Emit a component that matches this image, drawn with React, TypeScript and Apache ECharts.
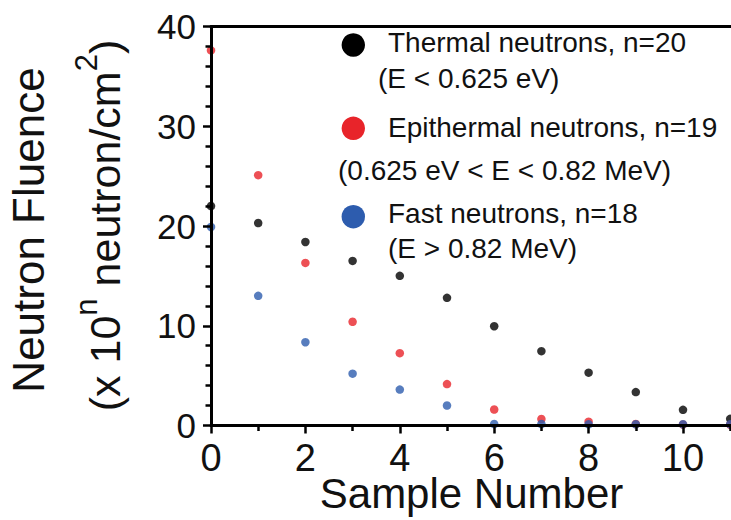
import React, { useEffect, useRef } from "react";
import * as echarts from "echarts";

const sampleNumbers = [0, 1, 2, 3, 4, 5, 6, 7, 8, 9, 10, 11];
const thermal = [22.0, 20.3, 18.4, 16.5, 15.0, 12.8, 9.95, 7.45, 5.3, 3.35, 1.57, 0.67];
const epithermal = [37.6, 25.1, 16.3, 10.4, 7.25, 4.15, 1.6, 0.65, 0.38, 0.15, 0.1, 0.08];
const fast = [19.9, 13.0, 8.35, 5.2, 3.6, 2.0, 0.15, 0.15, 0.12, 0.12, 0.12, 0.12];
const seriesNames = ["Thermal neutrons, n=20", "Epithermal neutrons, n=19", "Fast neutrons, n=18"];
const seriesRanges = ["(E < 0.625 eV)", "(0.625 eV < E < 0.82 MeV)", "(E > 0.82 MeV)"];
const colors = ["#000000", "#e8242a", "#2d5cae"];

const FONT = '"Liberation Sans", Arial, Helvetica, sans-serif';
const INK = "#111111";
const CHART_W = 800;

export default function App() {
  const ref = useRef<HTMLDivElement>(null);
  useEffect(() => {
    if (!ref.current) return;
    const chart = echarts.init(ref.current, undefined, { renderer: "svg" });
    const toPairs = (vals: number[]) => vals.map((v, i) => [sampleNumbers[i], v]);
    const legendY = [[45, 42, 78.6], [128.3, 127, 170.3], [216.7, 213.6, 248.6]];
    const legendX2 = [378, 338, 388];
    const graphics: any[] = [];
    seriesNames.forEach((name, i) => {
      graphics.push({
        type: "circle",
        shape: { cx: 353.3, cy: legendY[i][0], r: 11.7 },
        style: { fill: colors[i] },
      });
      graphics.push({
        type: "text",
        x: 388,
        y: legendY[i][1],
        style: { text: name, fontSize: 28, lineHeight: 30, fontFamily: FONT, fill: INK, align: "left", verticalAlign: "middle" },
      });
      graphics.push({
        type: "text",
        x: legendX2[i],
        y: legendY[i][2],
        style: { text: seriesRanges[i], fontSize: 28, lineHeight: 30, fontFamily: FONT, fill: INK, align: "left", verticalAlign: "middle" },
      });
    });
    graphics.push({
      type: "text",
      x: 28,
      y: 230,
      rotation: Math.PI / 2,
      style: { text: "Neutron Fluence", fontSize: 44, lineHeight: 40, fontFamily: FONT, fill: INK, align: "center", verticalAlign: "middle" },
    });
    graphics.push({
      type: "text",
      x: 105.4,
      y: 225.5,
      rotation: Math.PI / 2,
      style: {
        text: "(x 10{sup|n} neutron/cm{sup|2})",
        fontSize: 43,
        lineHeight: 42,
        fontFamily: FONT,
        fill: INK,
        align: "center",
        verticalAlign: "middle",
        rich: {
          sup: { fontSize: 31, lineHeight: 30, fontFamily: FONT, fill: INK, padding: [0, 0, 38, 0] },
        },
      },
    });
    graphics.push({
      type: "text",
      x: 471.5,
      y: 493,
      style: { text: "Sample Number", fontSize: 42, lineHeight: 34, fontFamily: FONT, fill: INK, align: "center", verticalAlign: "middle" },
    });

    const axisLine = { lineStyle: { color: "#000", width: 3 } };
    chart.setOption({
      animation: false,
      backgroundColor: "#ffffff",
      grid: { left: 211, right: CHART_W - 211 - 12 * 47.2, top: 26.5, bottom: 94.5, containLabel: false },
      xAxis: [
        {
          type: "value",
          min: 0,
          max: 12,
          interval: 2,
          position: "bottom",
          z: 5,
          axisLine,
          axisTick: { show: true, length: 8, lineStyle: { color: "#000", width: 2.5 } },
          minorTick: { show: true, splitNumber: 2, length: 5.5, lineStyle: { color: "#000", width: 2.5 } },
          splitLine: { show: false },
          minorSplitLine: { show: false },
          axisLabel: { fontSize: 38, lineHeight: 30, fontFamily: FONT, color: INK, margin: 17, showMaxLabel: false },
        },
        {
          type: "value",
          min: 0,
          max: 12,
          position: "top",
          z: 5,
          axisLine,
          axisTick: { show: false },
          axisLabel: { show: false },
          splitLine: { show: false },
        },
      ],
      yAxis: {
        type: "value",
        min: 0,
        max: 40,
        interval: 10,
        z: 5,
        axisLine: { show: true, ...axisLine },
        axisTick: { show: true, length: 8, lineStyle: { color: "#000", width: 2.5 } },
        minorTick: { show: true, splitNumber: 5, length: 5.5, lineStyle: { color: "#000", width: 2.5 } },
        splitLine: { show: false },
        minorSplitLine: { show: false },
        axisLabel: { fontSize: 35, lineHeight: 30, fontFamily: FONT, color: INK, margin: 15 },
      },
      series: [
        { name: seriesNames[0], type: "scatter", symbol: "circle", symbolSize: 8.5, itemStyle: { color: colors[0] }, data: toPairs(thermal) },
        { name: seriesNames[1], type: "scatter", symbol: "circle", symbolSize: 8.5, itemStyle: { color: colors[1] }, data: toPairs(epithermal) },
        { name: seriesNames[2], type: "scatter", symbol: "circle", symbolSize: 8.5, itemStyle: { color: colors[2] }, data: toPairs(fast) },
      ],
      graphic: graphics,
    });
    return () => chart.dispose();
  }, []);
  return (
    <div style={{ position: "fixed", left: 0, top: 0, width: 731, height: 520, overflow: "hidden", background: "#fff" }}>
      <div ref={ref} style={{ width: CHART_W, height: 520 }} />
    </div>
  );
}
